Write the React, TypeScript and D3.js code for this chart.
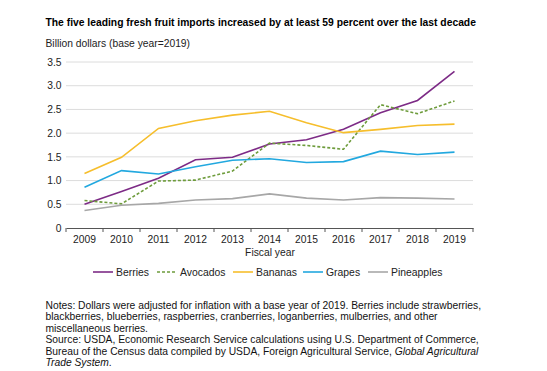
import { useEffect, useRef } from 'react';
import * as d3 from 'd3';

const years = ['2009', '2010', '2011', '2012', '2013', '2014', '2015', '2016', '2017', '2018', '2019'];
const berries = [0.5, 0.77, 1.05, 1.44, 1.49, 1.77, 1.86, 2.08, 2.43, 2.69, 3.3];
const avocados = [0.58, 0.51, 0.99, 1.01, 1.2, 1.79, 1.74, 1.66, 2.6, 2.41, 2.68];
const bananas = [1.15, 1.49, 2.1, 2.26, 2.38, 2.46, 2.22, 2.01, 2.08, 2.16, 2.19];
const grapes = [0.86, 1.21, 1.14, 1.29, 1.43, 1.46, 1.38, 1.4, 1.62, 1.55, 1.6];
const pineapples = [0.37, 0.48, 0.52, 0.59, 0.62, 0.72, 0.63, 0.59, 0.64, 0.63, 0.61];
const yTicks = [0, 0.5, 1, 1.5, 2, 2.5, 3, 3.5];

const seriesList = [
  { name: 'Berries', values: berries, color: '#7D2B86', dash: '' },
  { name: 'Avocados', values: avocados, color: '#6E9C3C', dash: '3,2' },
  { name: 'Bananas', values: bananas, color: '#F6BE2C', dash: '' },
  { name: 'Grapes', values: grapes, color: '#22A8DF', dash: '' },
  { name: 'Pineapples', values: pineapples, color: '#A7A7A7', dash: '' },
];

const notes = [
  'Notes: Dollars were adjusted for inflation with a base year of 2019. Berries include strawberries,',
  'blackberries, blueberries, raspberries, cranberries, loganberries, mulberries, and other',
  'miscellaneous berries.',
  'Source: USDA, Economic Research Service calculations using U.S. Department of Commerce,',
];

const FONT = 'Liberation Sans, Arial, Helvetica, sans-serif';
const AXIS_FS = 10.3;
const TEXT_X = 45.5;

const App: React.FC = () => {
  const svgRef = useRef<SVGSVGElement | null>(null);

  useEffect(() => {
    if (svgRef.current === null) return;
    const svg = d3.select(svgRef.current);
    svg.selectAll('*').remove();

    const left = 66;
    const right = 473;
    const top = 62;
    const bottom = 228;

    const x = d3.scaleBand<string>().domain(years).range([left, right]).padding(0);
    const y = d3.scaleLinear().domain([0, 3.5]).range([bottom, top]);
    const cx = (d: string) => (x(d) ?? 0) + x.bandwidth() / 2;

    // shrink/grow a font so a line spans the width seen in the picture
    const fitSize = (node: SVGTextElement, base: number, target: number) => {
      const len = node.getComputedTextLength();
      return len > 0 ? (base * target) / len : base;
    };

    // title
    const title = svg
      .append('text')
      .attr('x', TEXT_X)
      .attr('y', 26)
      .attr('font-family', FONT)
      .attr('font-size', 10)
      .attr('font-weight', 'bold')
      .attr('fill', '#000')
      .text('The five leading fresh fruit imports increased by at least 59 percent over the last decade');
    title.attr('font-size', fitSize(title.node()!, 10, 431));

    svg
      .append('text')
      .attr('x', TEXT_X)
      .attr('y', 47)
      .attr('font-family', FONT)
      .attr('font-size', 10.3)
      .attr('fill', '#222')
      .text('Billion dollars (base year=2019)');

    // gridlines
    svg
      .selectAll('.grid')
      .data(yTicks.filter((t) => t > 0))
      .enter()
      .append('line')
      .attr('x1', left)
      .attr('x2', right)
      .attr('y1', (d) => y(d))
      .attr('y2', (d) => y(d))
      .attr('stroke', '#DCDCDC')
      .attr('stroke-width', 1);

    // y labels
    svg
      .selectAll('.ylab')
      .data(yTicks)
      .enter()
      .append('text')
      .attr('x', 61.5)
      .attr('y', (d) => y(d) + 3.7)
      .attr('text-anchor', 'end')
      .attr('font-family', FONT)
      .attr('font-size', AXIS_FS)
      .attr('fill', '#222')
      .text((d) => (d === 0 ? '0' : d.toFixed(1)));

    // x axis
    const xAxis = svg
      .append('g')
      .attr('transform', `translate(0,${bottom})`)
      .call(d3.axisBottom(x).tickSize(0).tickPadding(7.5));
    xAxis.select('.domain').attr('stroke', '#555');
    xAxis
      .selectAll('.tick text')
      .attr('font-family', FONT)
      .attr('font-size', AXIS_FS)
      .attr('fill', '#222');

    const edges = years.map((d) => x(d) ?? 0).concat([right]);
    svg
      .selectAll('.xtick')
      .data(edges)
      .enter()
      .append('line')
      .attr('x1', (d) => d)
      .attr('x2', (d) => d)
      .attr('y1', bottom)
      .attr('y2', bottom + 4)
      .attr('stroke', '#555');

    svg
      .append('text')
      .attr('x', 270)
      .attr('y', 256)
      .attr('text-anchor', 'middle')
      .attr('font-family', FONT)
      .attr('font-size', AXIS_FS)
      .attr('fill', '#222')
      .text('Fiscal year');

    // lines
    const line = d3
      .line<number>()
      .x((_, i) => cx(years[i]))
      .y((d) => y(d));

    seriesList.forEach((s) => {
      svg
        .append('path')
        .datum(s.values)
        .attr('d', line)
        .attr('fill', 'none')
        .attr('stroke', s.color)
        .attr('stroke-width', 1.6)
        .attr('stroke-dasharray', s.dash || null);
    });

    // legend
    const legendX = [93, 157, 233, 303, 368];
    const lg = svg
      .selectAll('.legend')
      .data(seriesList)
      .enter()
      .append('g')
      .attr('transform', (_, i) => `translate(${legendX[i]},272)`);
    lg.append('line')
      .attr('x1', 0)
      .attr('x2', 20)
      .attr('stroke', (d) => d.color)
      .attr('stroke-width', 1.6)
      .attr('stroke-dasharray', (d) => d.dash || null);
    lg.append('text')
      .attr('x', 23)
      .attr('y', 3.7)
      .attr('font-family', FONT)
      .attr('font-size', 10.4)
      .attr('fill', '#222')
      .text((d) => d.name);

    // notes
    const noteG = svg.append('g').attr('font-family', FONT).attr('font-size', 10).attr('fill', '#111');
    const lineY = (i: number) => 308.5 + i * 11.5;
    const rows = notes.map((n, i) =>
      noteG.append('text').attr('x', TEXT_X).attr('y', lineY(i)).text(n)
    );
    noteG.attr('font-size', fitSize(rows[0].node()!, 10, 436));
    const l5 = noteG.append('text').attr('x', TEXT_X).attr('y', lineY(4));
    l5.append('tspan').text('Bureau of the Census data compiled by USDA, Foreign Agricultural Service, ');
    l5.append('tspan').attr('font-style', 'italic').text('Global Agricultural');
    noteG
      .append('text')
      .attr('x', TEXT_X)
      .attr('y', lineY(5))
      .call((t) => {
        t.append('tspan').attr('font-style', 'italic').text('Trade System');
        t.append('tspan').text('.');
      });
  }, []);

  return (
    <svg
      ref={svgRef}
      width={547}
      height={371}
      style={{ position: 'absolute', left: 0, top: 0, background: '#fff' }}
    ></svg>
  );
};

export default App;
